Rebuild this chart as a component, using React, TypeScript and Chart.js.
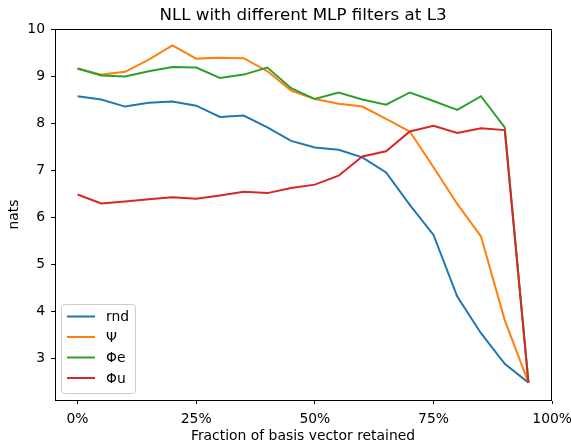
import React, { useEffect, useRef } from "react";
import { Chart, registerables } from "chart.js";

Chart.register(...registerables);

const fractions = [0, 5, 10, 15, 20, 25, 30, 35, 40, 45, 50, 55, 60, 65, 70, 75, 80, 85, 90, 95];
const rnd = [8.57, 8.5, 8.35, 8.43, 8.46, 8.37, 8.13, 8.16, 7.91, 7.62, 7.48, 7.43, 7.27, 6.95, 6.26, 5.62, 4.31, 3.53, 2.88, 2.48];
const psi = [9.16, 9.03, 9.09, 9.35, 9.65, 9.37, 9.39, 9.38, 9.1, 8.69, 8.51, 8.41, 8.35, 8.09, 7.82, 7.06, 6.28, 5.59, 3.81, 2.48];
const phiE = [9.16, 9.01, 8.99, 9.1, 9.19, 9.18, 8.96, 9.03, 9.18, 8.74, 8.51, 8.65, 8.5, 8.39, 8.65, 8.47, 8.28, 8.57, 7.91, 2.48];
const phiU = [6.48, 6.29, 6.33, 6.38, 6.42, 6.39, 6.46, 6.54, 6.51, 6.62, 6.69, 6.88, 7.29, 7.4, 7.82, 7.94, 7.79, 7.89, 7.85, 2.48];
const seriesLabels = ["rnd", "Ψ", "Φe", "Φu"];
const seriesColors = ["#1f77b4", "#ff7f0e", "#2ca02c", "#d62728"];
const xTicks = [0, 25, 50, 75, 100];
const yTicks = [3, 4, 5, 6, 7, 8, 9, 10];
const titleText = "NLL with different MLP filters at L3";
const xLabel = "Fraction of basis vector retained";
const yLabel = "nats";

const FONT = "'DejaVu Sans', sans-serif";

const decorPlugin = {
  id: "decor",
  afterDraw(chart: any) {
    const { ctx, chartArea } = chart;
    const { left, right, top, bottom } = chartArea;
    ctx.save();
    // frame
    ctx.strokeStyle = "#000";
    ctx.lineWidth = 1;
    ctx.strokeRect(Math.round(left) + 0.5, Math.round(top) + 0.5, Math.round(right - left), Math.round(bottom - top));
    // title
    ctx.fillStyle = "#000";
    ctx.font = `16.7px ${FONT}`;
    ctx.textAlign = "center";
    ctx.textBaseline = "middle";
    ctx.fillText(titleText, (left + right) / 2, 16);
    // legend
    const lx = left + 6, ly = bottom - 96, lw = 74, lh = 89;
    ctx.globalAlpha = 0.8;
    ctx.fillStyle = "#fff";
    ctx.strokeStyle = "#cccccc";
    ctx.beginPath();
    (ctx as any).roundRect(lx + 0.5, ly + 0.5, lw, lh, 3);
    ctx.fill();
    ctx.globalAlpha = 1;
    ctx.stroke();
    ctx.font = `13.9px ${FONT}`;
    ctx.textAlign = "left";
    ctx.textBaseline = "middle";
    chart.data.datasets.forEach((ds: any, i: number) => {
      const y = ly + 12.5 + i * 20.5;
      ctx.strokeStyle = ds.borderColor;
      ctx.lineWidth = 2;
      ctx.beginPath();
      ctx.moveTo(lx + 6, y);
      ctx.lineTo(lx + 34, y);
      ctx.stroke();
      ctx.fillStyle = "#000";
      ctx.fillText(ds.label, lx + 45, y + 1);
    });
    ctx.restore();
  },
};

export default function App() {
  const ref = useRef<HTMLCanvasElement>(null);
  useEffect(() => {
    const values = [rnd, psi, phiE, phiU];
    const chart = new Chart(ref.current!, {
      type: "line",
      data: {
        datasets: values.map((arr, i) => ({
          label: seriesLabels[i],
          data: arr.map((v, j) => ({ x: fractions[j], y: v })),
          borderColor: seriesColors[i],
          backgroundColor: seriesColors[i],
          borderWidth: 2,
          pointRadius: 0,
          tension: 0,
          fill: false,
          order: 3 - i,
        })),
      },
      options: {
        animation: false,
        responsive: false,
        layout: { padding: { top: 29, right: 20, left: 0, bottom: 0 } },
        plugins: { legend: { display: false }, title: { display: false }, tooltip: { enabled: false } },
        scales: {
          x: {
            type: "linear",
            min: -4.75,
            max: 99.75,
            afterBuildTicks: (s: any) => { s.ticks = xTicks.map((v) => ({ value: v })); },
            afterFit: (s: any) => { s.height = 43; s.paddingLeft = 0; s.paddingRight = 0; },
            ticks: {
              callback: (v: any) => `${v}%`,
              color: "#000",
              font: { family: FONT, size: 13.9 },
              padding: 7,
              maxRotation: 0,
              autoSkip: false,
            },
            grid: { drawOnChartArea: false, drawTicks: true, tickLength: 4, tickColor: "#000" },
            border: { display: true, color: "#000" },
            title: {
              display: true,
              text: xLabel,
              color: "#000",
              font: { family: FONT, size: 13.9, lineHeight: 1 },
              padding: { top: 0, bottom: 0 },
            },
          },
          y: {
            type: "linear",
            min: 2.11,
            max: 10.0,
            afterBuildTicks: (s: any) => { s.ticks = yTicks.map((v) => ({ value: v })); },
            afterFit: (s: any) => { s.width = 55; s.paddingTop = 0; s.paddingBottom = 0; },
            ticks: {
              color: "#000",
              font: { family: FONT, size: 13.9 },
              padding: 6,
              autoSkip: false,
            },
            grid: { drawOnChartArea: false, drawTicks: true, tickLength: 4, tickColor: "#000" },
            border: { display: true, color: "#000" },
            title: {
              display: true,
              text: yLabel,
              color: "#000",
              font: { family: FONT, size: 13.9, lineHeight: 1 },
              padding: { top: 7, bottom: 0 },
            },
          },
        },
      },
      plugins: [decorPlugin],
    });
    return () => chart.destroy();
  }, []);
  return (
    <div style={{ position: "absolute", left: 0, top: 0, width: 571, height: 443, background: "#fff" }}>
      <canvas ref={ref} width={571} height={443} />
    </div>
  );
}
